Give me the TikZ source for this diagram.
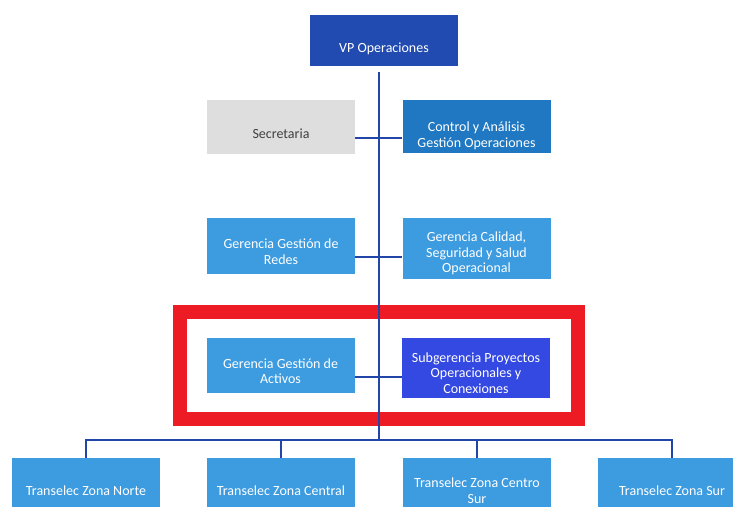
\documentclass[tikz,border=0pt]{standalone}
\usepackage{fontspec}
\setmainfont{Carlito}
\usepackage{xcolor}
\usepackage{tikz}

\definecolor{vpblue}{RGB}{33,75,176}
\definecolor{midblue}{RGB}{31,120,193}
\definecolor{lightblue}{RGB}{61,155,224}
\definecolor{royalblue}{RGB}{52,72,226}
\definecolor{linkblue}{RGB}{34,69,168}
\definecolor{markred}{RGB}{237,28,36}

% pushes the text a little below the middle of its box
\newcommand{\lift}[1][21]{\rule{0pt}{#1pt}}

\begin{document}
\begin{tikzpicture}[x=1pt, y=-1pt,
  every node/.style={align=center, inner sep=2pt, font=\fontsize{14}{15.5}\selectfont},
  unit/.style={fill=lightblue, text=white, minimum width=148pt, minimum height=#1},
  unit/.default=56pt,
  link/.style={draw=linkblue, line width=2.6pt},
  frame/.style={draw=markred, line width=14pt}
]
\useasboundingbox (0,0) rectangle (733,506);
\clip (0,0) rectangle (733,506);

\node[unit=51pt, fill=vpblue] (vp) at (384,40.5) {\lift[26]VP Operaciones};
\node[unit=54pt, fill=black!13, text=black!75] (sec) at (281,127) {\lift[23]Secretaria};
\node[unit=53pt, fill=midblue] (ctrl) at (476.5,126.5) {\lift[28]Control y Análisis\\Gestión Operaciones};
\node[unit=56pt] (redes) at (281,246) {\lift Gerencia Gestión de\\Redes};
\node[unit=61pt] (calidad) at (476.5,248) {\lift Gerencia Calidad,\\Seguridad y Salud\\Operacional};
\node[unit=55pt] (activos) at (280.5,365.5) {\lift Gerencia Gestión de\\Activos};
\node[unit=60pt, fill=royalblue] (subg) at (476,367.5) {\lift Subgerencia Proyectos\\Operacionales y\\Conexiones};

\node[unit=54pt] (norte) at (86,485) {\lift Transelec Zona Norte};
\node[unit=54pt] (central) at (281,485) {\lift Transelec Zona Central};
\node[unit=54pt] (csur) at (477,485) {\lift Transelec Zona Centro\\Sur};
\node[unit=54pt] (sur) at (672,485) {\lift Transelec Zona Sur};

% highlight
\draw[frame] (180,311.5) rectangle (578,418.5);

\coordinate (top) at (379,72);
\coordinate (bus) at (379,440);
\coordinate (j1) at (379,138);
\coordinate (j2) at (379,257);
\coordinate (j3) at (379,377);

\draw[link] (top) -- (bus);
\draw[link] (sec.east |- j1) -- (ctrl.west |- j1);
\draw[link] (redes.east |- j2) -- (calidad.west |- j2);
\draw[link] (activos.east |- j3) -- (subg.west |- j3);

\draw[link] (norte.north) -- (norte.north |- bus) -- (sur.north |- bus) -- (sur.north);
\draw[link] (central.north) -- (central.north |- bus);
\draw[link] (csur.north) -- (csur.north |- bus);
\end{tikzpicture}
\end{document}
